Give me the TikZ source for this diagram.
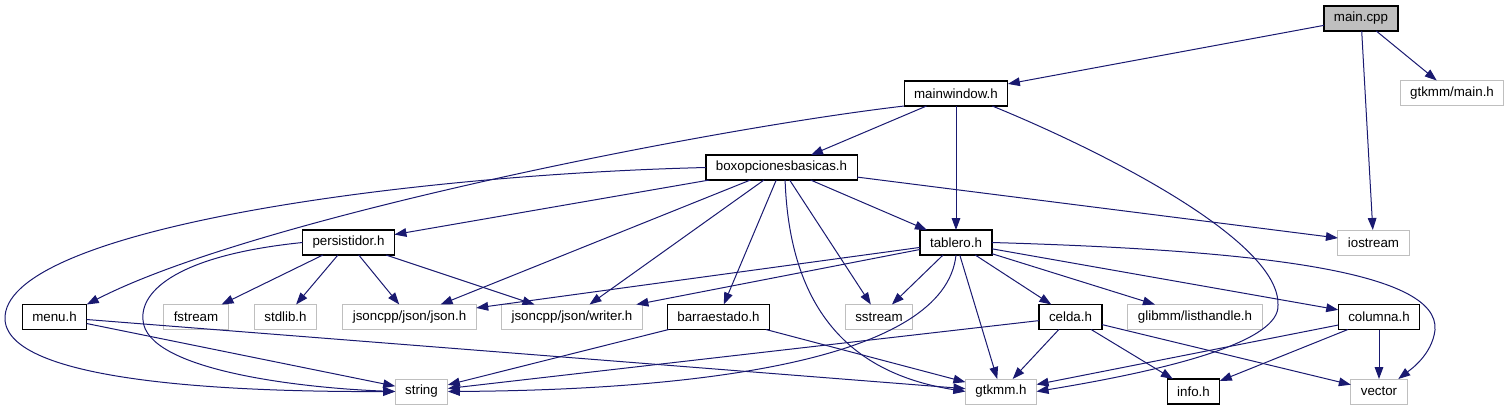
\documentclass[tikz,border=0pt]{standalone}
\usepackage{fontspec}
\setmainfont{Liberation Sans}
\usetikzlibrary{arrows.meta}
\definecolor{edgeblue}{HTML}{191970}
\definecolor{boxgray}{HTML}{BFBFBF}

\begin{document}
\begin{tikzpicture}[x=0.75pt,y=-0.75pt]
\tikzset{docbox/.style = {draw=black, line width=0.9pt, fill=white, minimum height=18.75pt, inner xsep=7.5pt, inner ysep=0pt, outer sep=0pt}}
\tikzset{extbox/.style = {docbox, draw=boxgray, line width=0.75pt}}
\tikzset{rootbox/.style = {docbox, fill=boxgray}}
\tikzset{dep/.style = {-{Triangle[length=9pt,width=6.5pt]}, edgeblue, line width=0.75pt}}
\useasboundingbox (0,0) rectangle (1511,411);

    \node[rootbox] (maincpp) at (1361,18.5) {main.cpp};
    \node[extbox] (gtkmain) at (1452,93) {gtkmm/main.h};
    \node[docbox] (mainwindow) at (956,93.5) {mainwindow.h};
    \node[docbox] (boxopc) at (781.5,167.5) {boxopcionesbasicas.h};
    \node[docbox] (persist) at (348.5,242.5) {persistidor.h};
    \node[docbox] (tablero) at (956,242.5) {tablero.h};
    \node[extbox] (iostream) at (1373.5,242.5) {iostream};

    \node[docbox] (menu) at (54.5,317) {menu.h};
    \node[extbox] (fstream) at (196,317) {fstream};
    \node[extbox] (stdlib) at (285.5,317) {stdlib.h};
    \node[extbox] (jsonh) at (409.5,317) {jsoncpp/json/json.h};
    \node[extbox] (writerh) at (572,317) {jsoncpp/json/writer.h};
    \node[docbox] (barra) at (718.5,317) {barraestado.h};
    \node[extbox] (sstream) at (879,317) {sstream};
    \node[docbox] (celda) at (1070.5,317) {celda.h};
    \node[extbox] (glibmm) at (1195,317) {glibmm/listhandle.h};
    \node[docbox] (columna) at (1379,317) {columna.h};

    \node[extbox] (string) at (421.5,391.5) {string};
    \node[extbox] (gtkmm) at (1001,391.5) {gtkmm.h};
    \node[docbox] (info) at (1193.5,391.5) {info.h};
    \node[extbox] (vector) at (1379,391.5) {vector};

\draw[dep] (maincpp) -- (mainwindow);
\draw[dep] (maincpp) -- (iostream);
\draw[dep] (maincpp) -- (gtkmain);

\draw[dep] (mainwindow) -- (boxopc);
\draw[dep] (mainwindow) -- (tablero);
\draw[dep] (mainwindow.south west) .. controls (700,130) and (250,220) .. (menu.north east);
\draw[dep] (mainwindow.-19) .. controls (1100,150) and (1280,240) .. (1278,305) .. controls (1280,340) and (1180,368) .. (gtkmm.east);

    \draw[dep] (boxopc.west) .. controls (400,175) and (0,230) .. (5,320) .. controls (10,385) and (250,392) .. (string.west);
    \draw[dep] (boxopc) -- (persist);
    \draw[dep] (boxopc) -- (jsonh);
    \draw[dep] (boxopc) -- (writerh);
    \draw[dep] (boxopc) -- (barra);
    \draw[dep] (boxopc.-74) .. controls (790,320) and (860,375) .. (gtkmm.west);
    \draw[dep] (boxopc) -- (sstream);
    \draw[dep] (boxopc) -- (tablero);
    \draw[dep] (boxopc) -- (iostream);

    \draw[dep] (persist.west) .. controls (180,255) and (140,290) .. (143,320) .. controls (146,370) and (300,388) .. (string.west);
    \draw[dep] (persist) -- (fstream);
    \draw[dep] (persist) -- (stdlib);
    \draw[dep] (persist) -- (jsonh);
    \draw[dep] (persist) -- (writerh);

    \draw[dep] (tablero) -- (jsonh);
    \draw[dep] (tablero) -- (writerh);
    \draw[dep] (tablero) -- (sstream);
    \draw[dep] (tablero.south) .. controls (945,360) and (700,390) .. (string.east);
    \draw[dep] (tablero) -- (gtkmm);
    \draw[dep] (tablero) -- (celda);
    \draw[dep] (tablero) -- (glibmm);
    \draw[dep] (tablero) -- (columna);
    \draw[dep] (tablero.east) .. controls (1250,250) and (1440,270) .. (1435,330) .. controls (1432,355) and (1410,370) .. (vector.33);

\draw[dep] (menu) -- (string);
\draw[dep] (menu) -- (gtkmm);
\draw[dep] (barra) -- (string);
\draw[dep] (barra) -- (gtkmm);

\draw[dep] (celda) -- (string);
\draw[dep] (celda) -- (gtkmm);
\draw[dep] (celda) -- (info);
\draw[dep] (celda) -- (vector);

\draw[dep] (columna) -- (gtkmm);
\draw[dep] (columna) -- (info);
\draw[dep] (columna) -- (vector);
\end{tikzpicture}
\end{document}
